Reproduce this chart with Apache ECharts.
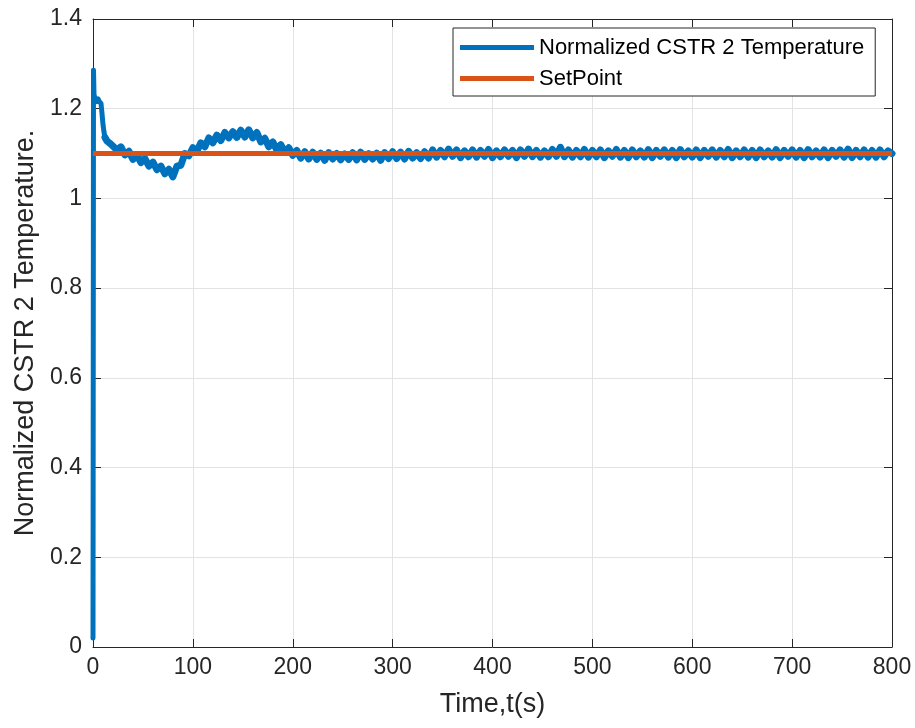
<!DOCTYPE html>
<html>
<head>
<meta charset="utf-8">
<script src="https://cdn.jsdelivr.net/npm/echarts@6/dist/echarts.min.js"></script>
<style>html,body{margin:0;padding:0;background:#fff}#c{width:915px;height:728px}</style>
</head>
<body>
<div id="c"></div>
<script>
var time = [0,0.5,1,2,3,4,5,6,7,8,9,10,11,12,14,16,18,
20,24,28,32,36,40,44,48,52,56,
60,64,68,72,76,80,84,88,92,96,
100,104,108,112,116,120,124,128,132,136,
140,144,148,152,156,160,164,168,172,176,
180,184,188,192,196,200,204,208,212,216,
220,224,228,232,236,240,244,248,252,256,
260,264,268,272,276,280,284,288,292,296,
300,304,308,312,316,320,324,328,332,336,
340,344,348,352,356,360,364,368,372,376,
380,384,388,392,396,400,404,408,412,416,
420,424,428,432,436,440,444,448,452,456,
460,464,468,472,476,480,484,488,492,496,
500,504,508,512,516,520,524,528,532,536,
540,544,548,552,556,560,564,568,572,576,
580,584,588,592,596,600,604,608,612,616,
620,624,628,632,636,640,644,648,652,656,
660,664,668,672,676,680,684,688,692,696,
700,704,708,712,716,720,724,728,732,736,
740,744,748,752,756,760,764,768,772,776,
780,784,788,792,796,800];

var temperature = [0.02,1.286,1.232,1.222,1.226,1.216,1.222,1.217,1.221,1.212,1.19,1.165,1.148,1.136,1.128,1.124,1.121,
1.125,1.108,1.115,1.097,1.105,1.087,1.097,1.080,1.089,1.072,
1.081,1.064,1.072,1.055,1.065,1.048,1.072,1.074,1.100,1.095,
1.113,1.105,1.124,1.115,1.135,1.124,1.141,1.129,1.147,1.135,
1.149,1.136,1.152,1.137,1.153,1.135,1.147,1.126,1.134,1.115,
1.126,1.108,1.120,1.103,1.113,1.096,1.107,1.090,1.104,1.088,
1.103,1.087,1.101,1.085,1.102,1.088,1.100,1.086,1.099,1.087,
1.102,1.086,1.103,1.087,1.100,1.088,1.101,1.085,1.102,1.089,
1.104,1.089,1.103,1.088,1.105,1.090,1.102,1.089,1.104,1.090,
1.108,1.092,1.107,1.093,1.110,1.094,1.108,1.091,1.106,1.093,
1.108,1.092,1.107,1.094,1.109,1.091,1.106,1.093,1.108,1.094,
1.107,1.091,1.108,1.094,1.110,1.093,1.107,1.092,1.106,1.093,
1.109,1.094,1.114,1.093,1.108,1.092,1.107,1.093,1.109,1.092,
1.107,1.093,1.108,1.091,1.106,1.094,1.109,1.092,1.107,1.091,
1.108,1.093,1.106,1.092,1.109,1.091,1.107,1.094,1.108,1.092,
1.107,1.091,1.109,1.093,1.106,1.092,1.108,1.091,1.107,1.094,
1.108,1.092,1.107,1.093,1.109,1.091,1.106,1.093,1.108,1.092,
1.107,1.091,1.108,1.093,1.106,1.092,1.109,1.091,1.107,1.094,
1.108,1.092,1.107,1.091,1.109,1.093,1.106,1.092,1.108,1.091,
1.107,1.094,1.108,1.092,1.110,1.091,1.107,1.093,1.108,1.092,
1.107,1.092,1.108,1.093,1.106,1.100];

var setPointTime = [0, 800];
var setPointValue = [1.1, 1.1];

var xTicks = [0,100,200,300,400,500,600,700,800];
var yTicks = [0,0.2,0.4,0.6,0.8,1,1.2,1.4];

var seriesNames = ['Normalized CSTR 2 Temperature', 'SetPoint'];

// transient part (thin line) and noisy part (thick band) of the same measured curve
var splitIndex = 13;
var tempPairs = time.map(function(t, i){ return [t, temperature[i]]; });
var transientData = tempPairs.slice(0, splitIndex + 1);
var noisyData = tempPairs.slice(splitIndex);
var spData = setPointTime.map(function(t, i){ return [t, setPointValue[i]]; });

var FONT = '"Liberation Sans", Arial, Helvetica, sans-serif';
var DARK = '#262626';
var BLUE = '#0072BD';
var ORANGE = '#D95319';

var chart = echarts.init(document.getElementById('c'), null, {renderer: 'canvas'});
chart.setOption({
  animation: false,
  backgroundColor: '#ffffff',
  grid: {left: 93, right: 23, top: 19, bottom: 81, containLabel: false},
  legend: {
    orient: 'vertical',
    left: 453, top: 28,
    padding: [7, 11, 5, 7],
    itemGap: 6,
    itemWidth: 74, itemHeight: 5,
    backgroundColor: '#ffffff',
    borderColor: DARK, borderWidth: 1,
    textStyle: {fontFamily: FONT, fontSize: 22, color: '#000', lineHeight: 25},
    data: [
      {name: seriesNames[0], icon: 'rect', itemStyle: {color: BLUE}},
      {name: seriesNames[1], icon: 'rect', itemStyle: {color: ORANGE}}
    ]
  },
  xAxis: [{
    type: 'value', min: xTicks[0], max: xTicks[xTicks.length-1], interval: 100,
    name: 'Time,t(s)', nameLocation: 'middle', nameGap: 44,
    nameTextStyle: {fontFamily: FONT, fontSize: 27, color: DARK},
    axisLine: {show: true, lineStyle: {color: DARK, width: 1}},
    axisTick: {show: true, inside: true, length: 8, lineStyle: {color: DARK}},
    axisLabel: {fontFamily: FONT, fontSize: 23, color: DARK, margin: 9},
    splitLine: {show: true, lineStyle: {color: '#e3e3e3', width: 1}}
  }, {
    type: 'value', position: 'top', min: xTicks[0], max: xTicks[xTicks.length-1], interval: 100,
    axisLine: {show: true, onZero: false, lineStyle: {color: DARK, width: 1}},
    axisTick: {show: true, inside: true, length: 8, lineStyle: {color: DARK}},
    axisLabel: {show: false}, splitLine: {show: false}
  }],
  yAxis: [{
    type: 'value', min: yTicks[0], max: yTicks[yTicks.length-1], interval: 0.2,
    name: 'Normalized CSTR 2 Temperature.', nameLocation: 'middle', nameGap: 50,
    nameTextStyle: {fontFamily: FONT, fontSize: 27, color: DARK},
    axisLine: {show: true, lineStyle: {color: DARK, width: 1}},
    axisTick: {show: true, inside: true, length: 8, lineStyle: {color: DARK}},
    axisLabel: {fontFamily: FONT, fontSize: 23, color: DARK, margin: 11},
    splitLine: {show: true, lineStyle: {color: '#e3e3e3', width: 1}}
  }, {
    type: 'value', position: 'right', min: yTicks[0], max: yTicks[yTicks.length-1], interval: 0.2,
    axisLine: {show: true, onZero: false, lineStyle: {color: DARK, width: 1}},
    axisTick: {show: true, inside: true, length: 8, lineStyle: {color: DARK}},
    axisLabel: {show: false}, splitLine: {show: false}
  }],
  series: [{
    name: seriesNames[0], type: 'line', data: transientData,
    xAxisIndex: 0, yAxisIndex: 0,
    showSymbol: false, symbol: 'none', clip: true,
    lineStyle: {color: BLUE, width: 5, join: 'round', cap: 'round'},
    itemStyle: {color: BLUE}, z: 3
  }, {
    name: seriesNames[0], type: 'line', data: noisyData,
    xAxisIndex: 0, yAxisIndex: 0,
    showSymbol: false, symbol: 'none', clip: true,
    lineStyle: {color: BLUE, width: 7, join: 'round', cap: 'round'},
    itemStyle: {color: BLUE}, z: 3
  }, {
    name: seriesNames[1], type: 'line', data: spData,
    xAxisIndex: 0, yAxisIndex: 0,
    showSymbol: false, symbol: 'none', clip: true,
    lineStyle: {color: ORANGE, width: 5},
    itemStyle: {color: ORANGE}, z: 4
  }]
});
</script>
</body>
</html>
